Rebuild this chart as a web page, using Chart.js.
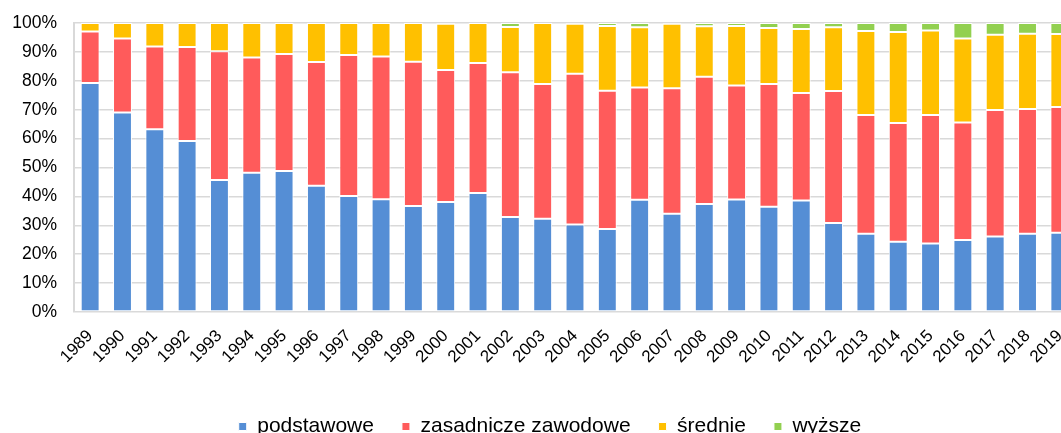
<!DOCTYPE html>
<html>
<head>
<meta charset="utf-8">
<script src="https://cdn.jsdelivr.net/npm/chart.js@4.4.1/dist/chart.umd.min.js"></script>
<style>
  html, body { margin: 0; padding: 0; background: #fff; overflow: hidden; }
  #wrap { width: 1061px; height: 433px; overflow: hidden; }
</style>
</head>
<body>
<div id="wrap">
  <canvas id="chart" width="1100" height="447"></canvas>
</div>
<script>
const years = ['1989', '1990', '1991', '1992', '1993', '1994', '1995', '1996', '1997', '1998',
  '1999', '2000', '2001', '2002', '2003', '2004', '2005', '2006', '2007', '2008',
  '2009', '2010', '2011', '2012', '2013', '2014', '2015', '2016', '2017', '2018', '2019'];

// udział (%) wg poziomu wykształcenia
const podstawowe = [79.2, 69.0, 63.2, 59.2, 45.7, 48.2, 48.8, 43.7, 40.1, 39.0,
  36.7, 38.1, 41.2, 32.9, 32.3, 30.3, 28.7, 38.8, 34.0, 37.4,
  38.9, 36.4, 38.6, 30.8, 27.1, 24.3, 23.7, 24.9, 26.1, 27.1, 27.4];
const zasadnicze = [17.9, 25.6, 28.7, 32.5, 44.5, 39.9, 40.5, 42.8, 48.8, 49.4,
  49.9, 45.6, 45.0, 50.1, 46.6, 52.1, 47.9, 38.9, 43.4, 44.0,
  39.5, 42.5, 37.2, 45.7, 41.1, 41.1, 44.5, 40.7, 43.8, 43.1, 43.5];
const srednie = [2.9, 5.4, 8.1, 8.3, 9.8, 11.9, 10.7, 13.5, 11.1, 11.6,
  13.4, 16.0, 13.8, 15.6, 21.1, 17.3, 22.4, 20.8, 22.3, 17.5,
  20.6, 19.4, 22.1, 22.0, 29.0, 31.5, 29.2, 29.0, 26.0, 26.1, 25.3];
const wyzsze = [0, 0, 0, 0, 0, 0, 0, 0, 0, 0,
  0, 0.3, 0, 1.4, 0, 0.3, 1.0, 1.5, 0.3, 1.1,
  1.0, 1.7, 2.1, 1.5, 2.8, 3.1, 2.6, 5.4, 4.1, 3.7, 3.8];

const fontFamily = "'Liberation Sans', Arial, sans-serif";

function dataset(label, data, color) {
  return {
    label: label,
    data: data,
    backgroundColor: color,
    borderColor: '#ffffff',
    borderWidth: 1,
    borderSkipped: false,
    barPercentage: 0.585,
    categoryPercentage: 1.0,
  };
}

// the legend sits centred under the whole (uncropped) figure, a bit right of the plot centre
const legendShift = {
  id: 'legendShift',
  afterLayout(chart) {
    chart.legend.left += 12;
    chart.legend.right += 12;
  },
};

const ctx = document.getElementById('chart').getContext('2d');
new Chart(ctx, {
  type: 'bar',
  data: {
    labels: years,
    datasets: [
      dataset('podstawowe', podstawowe, '#558ed5'),
      dataset('zasadnicze zawodowe', zasadnicze, '#ff5b5b'),
      dataset('średnie', srednie, '#ffc000'),
      dataset('wyższe', wyzsze, '#92d050'),
    ],
  },
  plugins: [legendShift],
  options: {
    responsive: false,
    animation: false,
    devicePixelRatio: 1,
    layout: {
      padding: { top: 23, left: 0, right: 24, bottom: 0 },
    },
    plugins: {
      tooltip: { enabled: false },
      legend: {
        position: 'bottom',
        labels: {
          boxWidth: 8,
          boxHeight: 8,
          padding: 28,
          color: '#000',
          font: { family: fontFamily, size: 21 },
        },
      },
    },
    scales: {
      x: {
        stacked: true,
        grid: { display: false, drawTicks: false },
        border: { display: false },
        ticks: {
          minRotation: 45,
          maxRotation: 45,
          autoSkip: false,
          padding: 14,
          color: '#000',
          font: { family: fontFamily, size: 17 },
        },
        afterFit: (scale) => { scale.height = 76; },
      },
      y: {
        stacked: true,
        min: 0,
        max: 100,
        grid: { color: '#d9d9d9', lineWidth: 1.5, drawTicks: false },
        border: { display: true, color: '#d9d9d9', width: 2 },
        ticks: {
          stepSize: 10,
          padding: 17,
          color: '#000',
          font: { family: fontFamily, size: 17.5 },
          callback: (v) => v + '%',
        },
        afterFit: (scale) => {
          scale.width = 74;
          // tick padding would otherwise push the plot top down
          scale.paddingTop = 0;
          scale.paddingBottom = 0;
        },
      },
    },
  },
});
</script>
</body>
</html>
